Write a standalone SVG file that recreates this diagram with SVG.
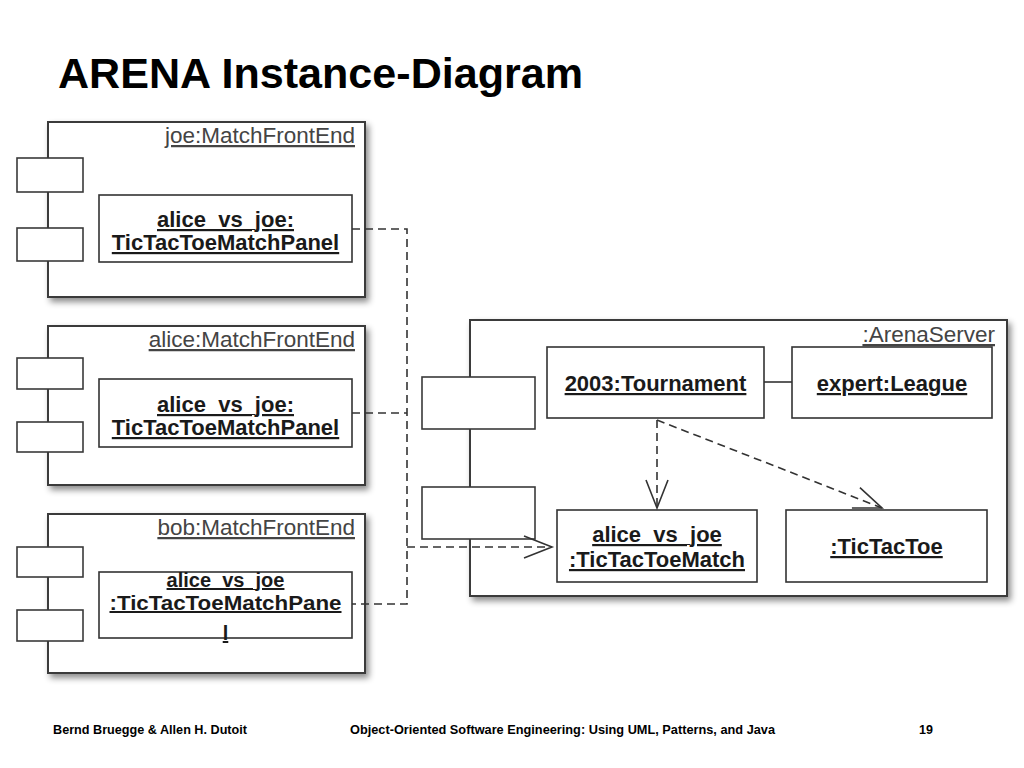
<svg xmlns="http://www.w3.org/2000/svg" width="1024" height="768" viewBox="0 0 1024 768">
<defs>
<filter id="sh" x="-10%" y="-10%" width="125%" height="130%">
<feDropShadow dx="3" dy="4" stdDeviation="3" flood-color="#000" flood-opacity="0.45"/>
</filter>
<marker id="open" markerUnits="userSpaceOnUse" markerWidth="32" markerHeight="28" viewBox="0 0 32 28" refX="29" refY="13" orient="auto">
<path d="M1,2 L29,13 L1,24" fill="none" stroke="#333" stroke-width="1.6" stroke-dasharray="none"/>
</marker>
<style>
.frame{fill:#fff;stroke:#3a3a3a;stroke-width:2}
.port{fill:#fff;stroke:#3a3a3a;stroke-width:1.6}
.obj{fill:#fff;stroke:#333;stroke-width:1.6}
.lbl{font-family:"Liberation Sans",Arial,sans-serif;font-size:22.5px;fill:#444;text-anchor:end;text-decoration:underline}
.nm{font-family:"Liberation Sans",Arial,sans-serif;font-size:22px;font-weight:bold;fill:#1a1a1a;text-anchor:middle;text-decoration:underline}
.sm{font-size:20px}
.dash{fill:none;stroke:#333;stroke-width:1.6;stroke-dasharray:8,5}
.solid{fill:none;stroke:#333;stroke-width:1.6}
.foot{font-family:"Liberation Sans",Arial,sans-serif;font-size:12.5px;font-weight:bold;fill:#000}
</style>
</defs>
<rect width="1024" height="768" fill="#fff"/>
<text x="58" y="88" font-family="Liberation Sans,Arial,sans-serif" font-size="43" font-weight="bold" fill="#000" textLength="525" lengthAdjust="spacingAndGlyphs">ARENA Instance-Diagram</text>

<g id="joe">
<rect class="frame" x="48" y="122" width="317" height="175" filter="url(#sh)"/>
<rect class="port" x="17" y="158" width="66" height="34"/>
<rect class="port" x="17" y="228" width="66" height="33"/>
<text class="lbl" x="355" y="143">joe:MatchFrontEnd</text>
<g id="joe-panel">
<rect class="obj" x="99" y="195" width="253" height="67"/>
<text class="nm" x="225.5" y="227">alice_vs_joe:</text>
<text class="nm" x="225.5" y="250">TicTacToeMatchPanel</text>
</g>
</g>

<g id="alice">
<rect class="frame" x="48" y="326" width="317" height="159" filter="url(#sh)"/>
<rect class="port" x="17" y="358" width="66" height="31"/>
<rect class="port" x="17" y="422" width="66" height="30"/>
<text class="lbl" x="355" y="347">alice:MatchFrontEnd</text>
<g id="alice-panel">
<rect class="obj" x="99" y="379" width="253" height="68"/>
<text class="nm" x="225.5" y="412">alice_vs_joe:</text>
<text class="nm" x="225.5" y="435">TicTacToeMatchPanel</text>
</g>
</g>

<g id="bob">
<rect class="frame" x="48" y="514" width="317" height="159" filter="url(#sh)"/>
<rect class="port" x="17" y="547" width="66" height="30"/>
<rect class="port" x="17" y="610" width="66" height="31"/>
<text class="lbl" x="355" y="535">bob:MatchFrontEnd</text>
<g id="bob-panel">
<rect class="obj" x="99" y="572" width="253" height="66"/>
<text class="nm sm" x="225.5" y="587">alice_vs_joe</text>
<text class="nm sm" x="225.5" y="610" textLength="232" lengthAdjust="spacingAndGlyphs">:TicTacToeMatchPane</text>
<text class="nm sm" x="225.5" y="640">l</text>
</g>
</g>

<g id="arena">
<rect class="frame" x="470" y="320" width="537" height="276" filter="url(#sh)"/>
<rect class="port" x="422" y="377" width="113" height="52"/>
<rect class="port" x="422" y="487" width="113" height="52"/>
<text class="lbl" x="995" y="342">:ArenaServer</text>
<g id="tournament">
<rect class="obj" x="547" y="347" width="217" height="71"/>
<text class="nm" x="655.5" y="391">2003:Tournament</text>
</g>
<g id="league">
<rect class="obj" x="792" y="347" width="200" height="71"/>
<text class="nm" x="892" y="391">expert:League</text>
</g>
<g id="match">
<rect class="obj" x="557" y="510" width="200" height="72"/>
<text class="nm" x="657" y="542">alice_vs_joe</text>
<text class="nm" x="657" y="567">:TicTacToeMatch</text>
</g>
<g id="tictactoe">
<rect class="obj" x="786" y="510" width="201" height="72"/>
<text class="nm" x="886.5" y="554">:TicTacToe</text>
</g>
</g>

<g id="connectors">
<path class="dash" d="M352,229 H407 V604 H352"/>
<path class="dash" d="M352,413 H407"/>
<path class="dash" d="M407,547 H552" marker-end="url(#open)"/>
<line class="solid" x1="764" y1="382" x2="792" y2="382"/>
<path class="dash" d="M657,420 V508" marker-end="url(#open)"/>
<path class="dash" d="M657,420 L882,508" marker-end="url(#open)"/>
</g>

<text class="foot" x="53" y="734" textLength="194" lengthAdjust="spacingAndGlyphs">Bernd Bruegge &amp; Allen H. Dutoit</text>
<text class="foot" x="350" y="734" textLength="425" lengthAdjust="spacingAndGlyphs">Object-Oriented Software Engineering: Using UML, Patterns, and Java</text>
<text class="foot" x="919" y="734">19</text>
</svg>
